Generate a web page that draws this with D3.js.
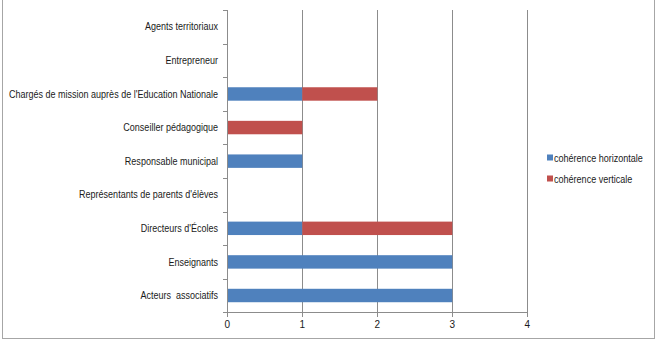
<!DOCTYPE html>
<html>
<head>
<meta charset="utf-8">
<script src="https://cdn.jsdelivr.net/npm/d3@7"></script>
<style>
  body { margin: 0; background: #fff; }
  svg { display: block; font-family: "Liberation Sans", Arial, sans-serif; }
</style>
</head>
<body>
<div id="chart"></div>
<script>
// categories from bottom to top
const categories = [
  "Acteurs  associatifs",
  "Enseignants",
  "Directeurs d'Écoles",
  "Représentants de parents d'élèves",
  "Responsable municipal",
  "Conseiller pédagogique",
  "Chargés de mission auprès de l'Education Nationale",
  "Entrepreneur",
  "Agents territoriaux"
];
const horizontale = [3, 3, 1, 0, 1, 0, 1, 0, 0];
const verticale = [0, 0, 2, 0, 0, 1, 1, 0, 0];
const seriesNames = ["cohérence horizontale", "cohérence verticale"];
const seriesColors = ["#4F81BD", "#C0504D"];
const xTicks = [0, 1, 2, 3, 4];

const W = 657, H = 341;
const svg = d3.select("#chart").append("svg").attr("width", W).attr("height", H);

// narrow the text like Calibri: squeeze each label horizontally
function squeeze(sel, factor) {
  sel.each(function () {
    const len = this.getComputedTextLength();
    d3.select(this).attr("textLength", len * factor).attr("lengthAdjust", "spacingAndGlyphs");
  });
}

// chart frame
svg.append("rect")
  .attr("x", 2.5).attr("y", -1)
  .attr("width", 652).attr("height", 339.5)
  .attr("fill", "none").attr("stroke", "#a6a6a6");

const plotLeft = 227.3, plotTop = 10, plotH = 302.3;
const x = d3.scaleLinear().domain([0, 4]).range([plotLeft, plotLeft + 300]);
const y = d3.scaleBand().domain(d3.range(categories.length).reverse())
  .range([plotTop, plotTop + plotH]).padding(0);

// gridlines
svg.append("g")
  .selectAll("line")
  .data(xTicks.slice(1))
  .join("line")
  .attr("x1", d => Math.round(x(d)) + 0.5).attr("x2", d => Math.round(x(d)) + 0.5)
  .attr("y1", plotTop).attr("y2", plotTop + plotH)
  .attr("stroke", "#8c8c8c");

// stacked bars
const stacked = categories.map((c, i) => ({ i, h: horizontale[i], v: verticale[i] }));
const barH = y.bandwidth() * 0.4;
const bars = svg.append("g");
bars.selectAll(".h")
  .data(stacked.filter(d => d.h > 0))
  .join("rect")
  .attr("x", x(0))
  .attr("y", d => y(d.i) + (y.bandwidth() - barH) / 2)
  .attr("width", d => x(d.h) - x(0))
  .attr("height", barH)
  .attr("fill", seriesColors[0]);
bars.selectAll(".v")
  .data(stacked.filter(d => d.v > 0))
  .join("rect")
  .attr("x", d => x(d.h))
  .attr("y", d => y(d.i) + (y.bandwidth() - barH) / 2)
  .attr("width", d => x(d.h + d.v) - x(d.h))
  .attr("height", barH)
  .attr("fill", seriesColors[1]);

// y axis
const yAxis = svg.append("g");
yAxis.append("line")
  .attr("x1", Math.round(plotLeft) + 0.5).attr("x2", Math.round(plotLeft) + 0.5)
  .attr("y1", plotTop).attr("y2", plotTop + plotH)
  .attr("stroke", "#8c8c8c");
yAxis.selectAll(".tick")
  .data(d3.range(categories.length + 1))
  .join("line")
  .attr("x1", Math.round(plotLeft) - 4).attr("x2", Math.round(plotLeft))
  .attr("y1", d => Math.round(plotTop + d * y.step()) + 0.5)
  .attr("y2", d => Math.round(plotTop + d * y.step()) + 0.5)
  .attr("stroke", "#8c8c8c");
const yLabels = yAxis.selectAll("text")
  .data(categories)
  .join("text")
  .attr("x", 218)
  .attr("y", (d, i) => y(i) + y.bandwidth() / 2)
  .attr("dy", "0.35em")
  .attr("text-anchor", "end")
  .attr("font-size", 10.5)
  .attr("fill", "#1a1a1a")
  .style("white-space", "pre")
  .text(d => d);
const longest = d3.max(yLabels.nodes(), n => n.getComputedTextLength());
squeeze(yLabels, 209 / longest);

// x axis
const xAxis = svg.append("g");
xAxis.append("line")
  .attr("x1", plotLeft).attr("x2", x(4))
  .attr("y1", Math.round(plotTop + plotH) + 0.5).attr("y2", Math.round(plotTop + plotH) + 0.5)
  .attr("stroke", "#8c8c8c");
xAxis.selectAll("line.t")
  .data(xTicks)
  .join("line")
  .attr("class", "t")
  .attr("x1", d => Math.round(x(d)) + 0.5).attr("x2", d => Math.round(x(d)) + 0.5)
  .attr("y1", Math.round(plotTop + plotH)).attr("y2", Math.round(plotTop + plotH) + 5)
  .attr("stroke", "#8c8c8c");
xAxis.selectAll("text")
  .data(xTicks)
  .join("text")
  .attr("x", d => x(d))
  .attr("y", 328)
  .attr("text-anchor", "middle")
  .attr("font-size", 10)
  .attr("fill", "#1a1a1a")
  .text(d => d);

// legend
const legend = svg.append("g");
seriesNames.forEach((name, k) => {
  const ly = 158 + k * 21;
  legend.append("rect")
    .attr("x", 547).attr("y", ly - 3.5)
    .attr("width", 6).attr("height", 6)
    .attr("fill", seriesColors[k]);
  const t = legend.append("text")
    .attr("x", 554).attr("y", ly)
    .attr("dy", "0.35em")
    .attr("font-size", 10.5)
    .attr("fill", "#1a1a1a")
    .text(name);
  squeeze(t, 0.86);
});
</script>
</body>
</html>
